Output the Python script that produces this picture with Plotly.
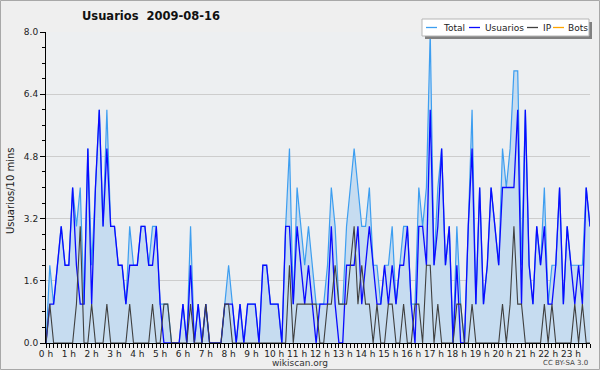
import plotly.graph_objects as go

# ---- data (10-minute intervals, 144 points) ----
hour_labels = [f"{h} h" for h in range(24)]

usuarios = [0, 1, 1, 2, 3, 2, 2, 4, 2, 1,
            1, 5, 1, 4, 6, 3, 5, 3, 3, 2,
            2, 1, 2, 2, 2, 3, 3, 2, 2, 3,
            1, 0, 0, 0, 0, 0, 1, 0, 2, 0,
            1, 0, 1, 0, 0, 0, 0, 1, 1, 1,
            0, 1, 0, 1, 1, 1, 0, 2, 2, 1,
            1, 1, 0, 3, 3, 1, 3, 2, 1, 2,
            1, 0, 1, 1, 1, 3, 1, 0, 0, 2,
            2, 2, 3, 1, 2, 3, 2, 1, 1, 2,
            1, 2, 1, 2, 2, 3, 1, 0, 3, 3,
            2, 6, 2, 3, 5, 2, 3, 0, 2, 0,
            0, 3, 5, 1, 4, 1, 2, 4, 3, 2,
            4, 4, 4, 4, 6, 1, 6, 2, 1, 3,
            2, 3, 1, 1, 2, 4, 1, 3, 2, 1,
            2, 1, 4, 3]

ip = [0, 1, 0, 0, 0, 0, 0, 0, 1, 3,
      0, 0, 1, 0, 0, 0, 1, 0, 0, 0,
      0, 0, 1, 0, 0, 0, 0, 0, 1, 0,
      0, 1, 1, 0, 0, 0, 0, 0, 1, 0,
      0, 0, 1, 0, 0, 0, 0, 1, 1, 0,
      0, 0, 0, 0, 0, 0, 0, 0, 0, 0,
      0, 0, 0, 0, 2, 0, 1, 1, 1, 1,
      1, 1, 0, 0, 1, 1, 2, 1, 1, 1,
      2, 3, 1, 2, 1, 1, 0, 1, 0, 0,
      1, 1, 0, 0, 1, 0, 0, 1, 1, 0,
      2, 2, 0, 1, 0, 0, 0, 0, 1, 1,
      0, 0, 1, 0, 0, 0, 0, 0, 0, 0,
      1, 0, 1, 3, 1, 1, 0, 0, 0, 0,
      0, 1, 0, 1, 0, 0, 0, 0, 0, 1,
      0, 1, 0, 0]

total = [0, 2, 1, 2, 3, 2, 2, 4, 3, 4,
         1, 5, 2, 4, 6, 3, 6, 3, 3, 2,
         2, 1, 3, 2, 2, 3, 3, 2, 3, 3,
         1, 1, 1, 0, 0, 0, 1, 0, 3, 0,
         1, 0, 1, 0, 0, 0, 0, 1, 2, 1,
         0, 1, 0, 1, 1, 1, 0, 2, 2, 1,
         1, 1, 0, 3, 5, 1, 4, 3, 2, 3,
         2, 1, 1, 1, 2, 4, 3, 1, 1, 3,
         4, 5, 4, 3, 3, 4, 2, 2, 1, 2,
         2, 3, 1, 2, 3, 3, 1, 1, 4, 3,
         4, 8, 2, 4, 5, 2, 3, 0, 3, 1,
         0, 3, 6, 1, 4, 1, 2, 4, 3, 2,
         5, 4, 5, 7, 7, 2, 6, 2, 1, 3,
         2, 4, 1, 2, 2, 4, 1, 3, 2, 2,
         2, 2, 4, 3]

bots = [0] * 144

x = list(range(len(total)))

# ---- geometry helpers (pixel -> paper coords) ----
L, R, T, B = 46, 590, 32, 343
W, H = R - L, B - T


def px(p):
    return (p - L) / W


def py(p):
    return (B - p) / H


FONT = "DejaVu Sans"

fig = go.Figure()
fig.add_trace(go.Scatter(x=x, y=bots, mode="lines", name="Bots",
                         line=dict(color="#ffa500", width=1.2)))
fig.add_trace(go.Scatter(x=x, y=total, mode="lines", name="Total",
                         line=dict(color="#3d9ef0", width=1.2),
                         fill="tozeroy", fillcolor="#c6dcf0"))
fig.add_trace(go.Scatter(x=x, y=usuarios, mode="lines", name="Usuarios",
                         line=dict(color="#0a0aff", width=1.3)))
fig.add_trace(go.Scatter(x=x, y=ip, mode="lines", name="IP",
                         line=dict(color="#404040", width=1.1)))

fig.update_layout(
    width=600, height=370,
    margin=dict(l=L, r=600 - R, t=T, b=370 - B, pad=0),
    paper_bgcolor="#efefef", plot_bgcolor="#edeff1",
    showlegend=False,
    font=dict(family=FONT, size=9, color="#222"),
)

fig.update_xaxes(
    range=[0, 143], tickmode="array",
    tickvals=[h * 6 for h in range(24)], ticktext=hour_labels,
    ticks="outside", ticklen=4, tickcolor="black", tickwidth=1,
    ticklabelstandoff=-2,
    showline=True, linecolor="black", linewidth=1,
    showgrid=False, zeroline=False,
    tickfont=dict(family=FONT, size=9, color="#222"),
    minor=dict(dtick=1, tick0=0, ticks="outside", ticklen=4,
               tickcolor="black", showgrid=False),
)
fig.update_yaxes(
    range=[0, 8], tickmode="linear", tick0=0, dtick=1.6, tickformat=".1f",
    ticks="outside", ticklen=5, tickcolor="black",
    showline=True, linecolor="black", linewidth=1,
    showgrid=True, gridcolor="#cdcdcd", gridwidth=1, zeroline=False,
    tickfont=dict(family=FONT, size=9, color="#222"),
    minor=dict(dtick=0.4, ticks="outside", ticklen=3, tickcolor="black",
               showgrid=False),
)

shapes = []
annotations = []

# outer border
shapes.append(dict(type="rect", xref="paper", yref="paper",
                   x0=px(0.5), x1=px(599.5), y0=py(369.5), y1=py(0.5),
                   line=dict(color="#a8a8a8", width=1), layer="below"))

# legend box with shadow
shapes.append(dict(type="rect", xref="paper", yref="paper",
                   x0=px(425), x1=px(592), y0=py(39), y1=py(22),
                   fillcolor="#808080", line=dict(width=0), layer="above"))
shapes.append(dict(type="rect", xref="paper", yref="paper",
                   x0=px(422), x1=px(589), y0=py(36), y1=py(19),
                   fillcolor="white", line=dict(color="#b5b5b5", width=1),
                   layer="above"))
legend_items = [("Total", "#3d9ef0", 426, 442),
                ("Usuarios", "#0a0aff", 469, 484),
                ("IP", "#404040", 527, 542),
                ("Bots", "#ffa500", 553, 567)]
for name, col, lx, tx in legend_items:
    shapes.append(dict(type="line", xref="paper", yref="paper",
                       x0=px(lx), x1=px(lx + 11), y0=py(27.5), y1=py(27.5),
                       line=dict(color=col, width=1.3), layer="above"))
    annotations.append(dict(text=name, xref="paper", yref="paper",
                            x=px(tx - 1), y=py(27.5), xanchor="left",
                            yanchor="middle", showarrow=False,
                            font=dict(family=FONT, size=9, color="#222")))

# title
annotations.append(dict(text="<b>Usuarios  2009-08-16</b>", xref="paper",
                        yref="paper", x=px(151), y=py(16), xanchor="center",
                        yanchor="middle", showarrow=False,
                        font=dict(family=FONT, size=11.5, color="#111")))
# y axis title
annotations.append(dict(text="Usuarios/10 mins", xref="paper", yref="paper",
                        x=px(10), y=py(191), xanchor="center",
                        yanchor="middle", textangle=-90, showarrow=False,
                        font=dict(family=FONT, size=10, color="#222")))
# footer
annotations.append(dict(text="wikiscan.org", xref="paper", yref="paper",
                        x=px(300), y=py(363), xanchor="center",
                        yanchor="middle", showarrow=False,
                        font=dict(family=FONT, size=9, color="#333")))
annotations.append(dict(text="CC BY-SA 3.0", xref="paper", yref="paper",
                        x=px(590), y=py(363.5), xanchor="right",
                        yanchor="middle", showarrow=False,
                        font=dict(family=FONT, size=7, color="#444")))

fig.update_layout(shapes=shapes, annotations=annotations)
fig.write_html("out.html")
